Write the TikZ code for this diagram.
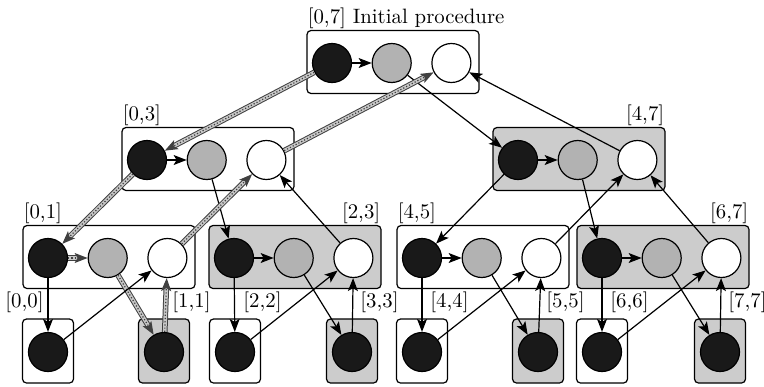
\documentclass[tikz,border=0pt]{standalone}
\usepackage{tikz}
\usetikzlibrary{positioning,arrows.meta}

\begin{document}
\begin{tikzpicture}[
x=0.5pt,
y=-0.5pt,
font=\fontsize{10.4}{12}\selectfont,
ball/.style={
  draw,
  circle,
  minimum size=19.5pt,
  inner sep=0pt,
  semithick
  },
inball/.style={ball, fill=black!90},
midball/.style={ball, fill=black!30},
outball/.style={ball, fill=white},
rangebox/.style={
  draw,
  rounded corners=2pt,
  minimum width=86pt,
  minimum height=31.5pt,
  inner sep=0pt,
  semithick
  },
leafbox/.style={
  draw,
  rounded corners=2pt,
  minimum width=25.5pt,
  minimum height=32pt,
  inner sep=0pt,
  semithick
  },
tag/.style={inner sep=0.5pt},
link/.style={->, semithick},
hatch/.style={
  preaction={draw, -, solid, line width=2.8pt, shorten >=5pt, black!75},
  preaction={draw, -, solid, line width=1.8pt, shorten >=5pt, black!22},
  ->, semithick, densely dotted, black!75
  },
>={Stealth[length=6.5pt,width=5pt,inset=1.5pt]}
]
\useasboundingbox (0,0) rectangle (764,386);

% ranges with three values
\foreach \nm/\x/\y/\sh/\st in {07/332/63/white/link, 03/147/160/white/link,
    47/518/160/black!20/link, 01/48/258/white/hatch, 23/234/258/black!20/link,
    45/422/258/white/link, 67/602/258/black!20/link}
{
  \node[rangebox, fill=\sh] (r\nm) at (\x+61,\y-1) {};
  \node[inball] (b\nm) at (\x,\y) {};
  \node[midball, right=9.75pt of b\nm] (g\nm) {};
  \node[outball, right=9.75pt of g\nm] (w\nm) {};
  \draw[\st] (b\nm) -- (g\nm);
}
\foreach \nm/\txt/\side in {07/{[0,7] Initial procedure}/west, 03/{[0,3]}/west,
    47/{[4,7]}/east, 01/{[0,1]}/west, 23/{[2,3]}/east, 45/{[4,5]}/west,
    67/{[6,7]}/east}
  \node[tag, anchor=south \side] at (r\nm.north \side) {\txt};

% single values
\foreach \i/\x/\sh in {0/48/white, 1/164/black!20, 2/235/white, 3/352/black!20,
    4/422/white, 5/538/black!20, 6/602/white, 7/720/black!20}
{
  \node[leafbox, fill=\sh] (s\i) at (\x,351) {};
  \node[inball] (l\i) at (\x,352) {};
}
\node[tag, anchor=south east] at ([xshift=-1.5pt,yshift=2pt]s0.north) {[0,0]};
\foreach \i in {1,...,7}
  \node[tag, anchor=south west] at ([xshift=3.5pt,yshift=2pt]s\i.north) {[\i,\i]};

% down and up between ranges
\foreach \p/\lc/\rc/\st in {07/03/47/hatch, 03/01/23/hatch, 47/45/67/link}
{
  \draw[\st] (b\p) -- (b\lc);
  \draw[link] (g\p) -- (b\rc);
  \draw[\st] (w\lc) -- (w\p);
  \draw[link] (w\rc) -- (w\p);
}
\foreach \p/\lc/\rc/\st in {01/0/1/hatch, 23/2/3/link, 45/4/5/link, 67/6/7/link}
{
  \draw[link] (b\p) -- (l\lc);
  \draw[\st] (g\p) -- (l\rc);
  \draw[link] (l\lc) -- (w\p);
  \draw[\st] (l\rc) -- (w\p);
}
\end{tikzpicture}
\end{document}
